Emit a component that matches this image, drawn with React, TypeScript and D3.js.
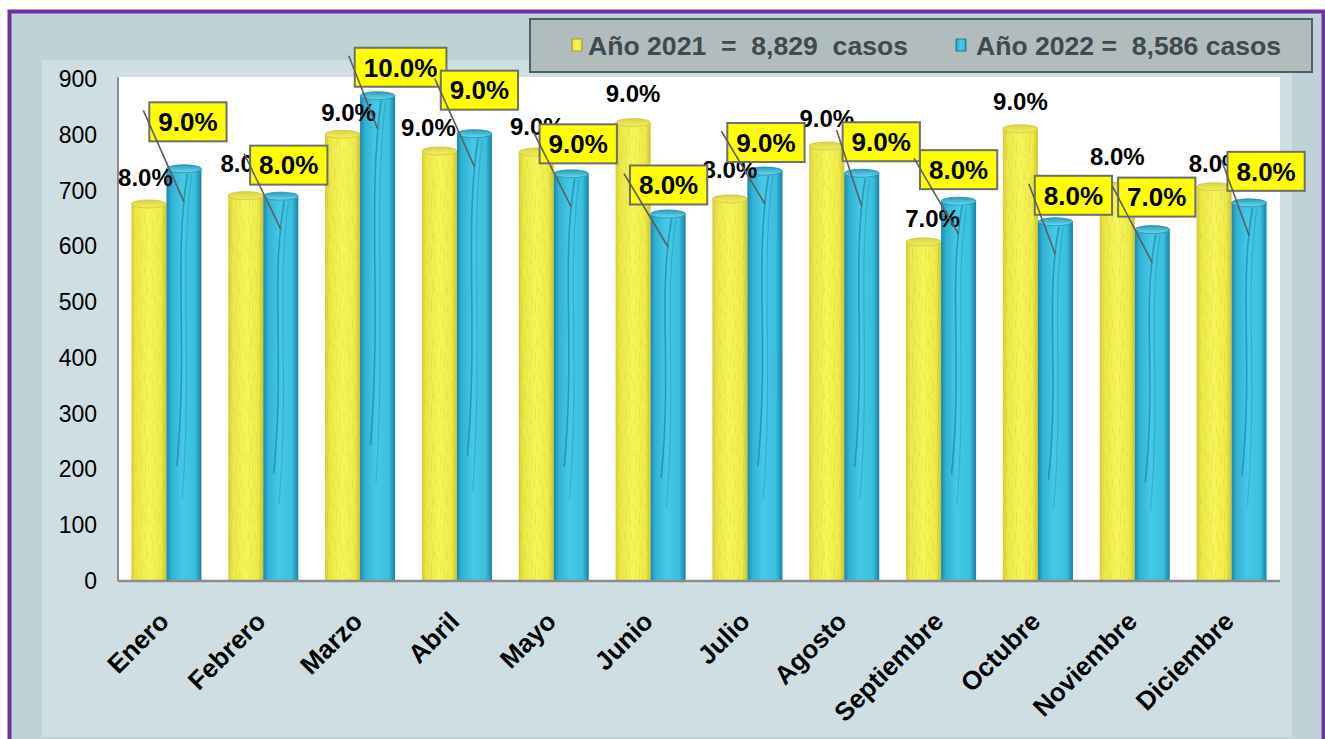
import React from 'react';
import * as d3 from 'd3';

const months = ['Enero','Febrero','Marzo','Abril','Mayo','Junio','Julio','Agosto','Septiembre','Octubre','Noviembre','Diciembre'];
const values2021 = [676, 691, 801, 771, 769, 822, 685, 780, 608, 811, 708, 707];
const values2022 = [739, 690, 870, 802, 730, 658, 735, 731, 681, 644, 630, 678];
const pct2021 = ['8.0%','8.0%','9.0%','9.0%','9.0%','9.0%','8.0%','9.0%','7.0%','9.0%','8.0%','8.0%'];
const pct2022 = ['9.0%','8.0%','10.0%','9.0%','9.0%','8.0%','9.0%','9.0%','8.0%','8.0%','7.0%','8.0%'];
const yTicks = [0,100,200,300,400,500,600,700,800,900];
const legendLabels = ['Año 2021  =  8,829  casos', 'Año 2022 =  8,586 casos'];

// label layout nudges (dx, dy) relative to the bar top
const nudge2021: [number, number][] = [[-3.5,-22],[2,-28],[6,-18],[-11,-19],[1,-22],[0,-25],[0,-25],[0,-23],[9,-19],[0,-23],[0,-26],[2,-19]];
const nudge2022: [number, number][] = [[4,-43],[8,-27],[23,-24.5],[5,-39.5],[7,-26],[0.5,-25],[1,-24.5],[19.5,-27.5],[0,-27.5],[18,-22.5],[4.5,-28.5],[17,-27.5]];

const FONT = '"Liberation Sans", Arial, Helvetica, sans-serif';

function measure(text: string, font: string): number {
  try {
    const c = document.createElement('canvas').getContext('2d');
    if (c) { c.font = font; return c.measureText(text).width; }
  } catch (e) {}
  return text.length * 14;
}

export default function App() {
  const W = 1325, H = 739;
  const plot = { x0: 118, x1: 1280, y0: 77, y1: 581 };
  const x = d3.scaleBand<string>().domain(months).range([plot.x0, plot.x1]).paddingInner(0.277).paddingOuter(0.1385);
  const xs = d3.scaleBand<string>().domain(['2021','2022']).range([0, x.bandwidth()]).padding(0);
  const y = d3.scaleLinear().domain([0, 900]).range([581, 79]);
  const ry = 4;
  const bw = xs.bandwidth();

  const yellowBars = months.map((m, i) => {
    const bx = (x(m) as number) + (xs('2021') as number);
    const cy = y(values2021[i]);
    return { bx, cy, cx: bx + bw / 2 };
  });
  const cyanBars = months.map((m, i) => {
    const bx = (x(m) as number) + (xs('2022') as number);
    const cy = y(values2022[i]);
    return { bx, cy, cx: bx + bw / 2 };
  });

  const boxFont = `bold 26px ${FONT}`;

  return (
    <svg width={W} height={H} style={{ position: 'absolute', left: 0, top: 0 }} fontFamily={FONT}>
      <defs>
        <linearGradient id="gy" x1="0" x2="1" y1="0" y2="0">
          <stop offset="0%" stopColor="#D3CB36" />
          <stop offset="12%" stopColor="#EBE645" />
          <stop offset="50%" stopColor="#F7F55C" />
          <stop offset="85%" stopColor="#EEEA48" />
          <stop offset="100%" stopColor="#CAC330" />
        </linearGradient>
        <linearGradient id="gc" x1="0" x2="1" y1="0" y2="0">
          <stop offset="0%" stopColor="#1B87A8" />
          <stop offset="14%" stopColor="#30B2D3" />
          <stop offset="45%" stopColor="#45C9E7" />
          <stop offset="82%" stopColor="#3ABFDD" />
          <stop offset="100%" stopColor="#1A81A2" />
        </linearGradient>
        <linearGradient id="gyl" x1="0" x2="0" y1="0" y2="1">
          <stop offset="0%" stopColor="#D8D04A" />
          <stop offset="100%" stopColor="#F4F060" />
        </linearGradient>
        <linearGradient id="gcl" x1="0" x2="0" y1="0" y2="1">
          <stop offset="0%" stopColor="#2A9AB8" />
          <stop offset="100%" stopColor="#6ED9F0" />
        </linearGradient>
        <pattern id="wood" width="13" height="53" patternUnits="userSpaceOnUse">
          <path d="M1.5 2 v9 M4 14 v17 M7.5 3 v6 M10 9 v13 M12 30 v12 M2.5 35 v14 M6 40 v9 M9 26 v6 M5.5 22 v5 M11 47 v5 M3 0 v1"
            stroke="#B0A81E" strokeOpacity="0.22" strokeWidth="0.8" fill="none" />
        </pattern>
      </defs>

      {/* frame */}
      <rect x={0} y={0} width={W} height={H} fill="#ffffff" />
      <rect x={9.5} y={11.5} width={1314} height={800} fill="#BED3D8" stroke="#7030A0" strokeWidth={4} />
      <rect x={42} y={60} width={1250} height={677} fill="#CFDEE3" />
      <rect x={plot.x0} y={plot.y0} width={plot.x1 - plot.x0} height={plot.y1 - plot.y0} fill="#ffffff" />

      {/* y axis */}
      <line x1={plot.x0} x2={plot.x0} y1={plot.y0} y2={plot.y1} stroke="#8C8C8C" strokeWidth={2} />
      {yTicks.map(t => (
        <text key={t} x={97} y={y(t) + 8} textAnchor="end" fontSize={23} fill="#000">{t}</text>
      ))}

      {/* bars */}
      {yellowBars.map((b, i) => {
        const h = plot.y1 - b.cy;
        return (
          <g key={'y' + i}>
            <rect x={b.bx} y={b.cy} width={bw} height={h} fill="url(#gy)" />
            <rect x={b.bx + 2} y={b.cy} width={bw - 4} height={h} fill="url(#wood)" />
            <ellipse cx={b.cx} cy={b.cy} rx={bw / 2} ry={ry} fill="url(#gyl)" stroke="#CFC63A" strokeWidth={0.8} />
          </g>
        );
      })}
      {cyanBars.map((b, i) => {
        const h = plot.y1 - b.cy;
        const top = b.cy;
        return (
          <g key={'c' + i}>
            <rect x={b.bx} y={top} width={bw} height={h} fill="url(#gc)" />
            <path d={`M${b.bx + bw * 0.6},${top + 5} C${b.bx + bw * 0.2},${top + h * 0.22} ${b.bx + bw * 0.62},${top + h * 0.42} ${b.bx + bw * 0.3},${top + h * 0.72}`}
              stroke="#15728F" strokeOpacity={0.55} strokeWidth={1.6} fill="none" />
            <path d={`M${b.bx + bw * 0.72},${top + 6} C${b.bx + bw * 0.36},${top + h * 0.25} ${b.bx + bw * 0.76},${top + h * 0.45} ${b.bx + bw * 0.45},${top + h * 0.8}`}
              stroke="#1D8CAC" strokeOpacity={0.4} strokeWidth={1.2} fill="none" />
            <ellipse cx={b.cx} cy={top} rx={bw / 2} ry={ry} fill="url(#gcl)" stroke="#1F8FB0" strokeWidth={0.8} />
          </g>
        );
      })}

      {/* baseline */}
      <line x1={plot.x0} x2={plot.x1} y1={plot.y1} y2={plot.y1} stroke="#8C8C8C" strokeWidth={2.5} />

      {/* x labels */}
      {months.map(m => {
        const cx = (x(m) as number) + x.bandwidth() / 2 + 4;
        return (
          <text key={m} transform={`translate(${cx},623) rotate(-45)`} textAnchor="end" fontSize={26} fontWeight="bold" fill="#000">{m}</text>
        );
      })}

      {/* 2021 labels */}
      {yellowBars.map((b, i) => (
        <text key={'l1' + i} x={b.cx + nudge2021[i][0]} y={b.cy - ry + nudge2021[i][1] + 8.5} textAnchor="middle" fontSize={24} fontWeight="bold" fill="#000">{pct2021[i]}</text>
      ))}

      {/* 2022 boxed labels */}
      {cyanBars.map((b, i) => {
        const tw = measure(pct2022[i], boxFont);
        const bwid = tw + 18, bh = 39;
        const cxB = b.cx + nudge2022[i][0];
        const cyB = b.cy - ry + nudge2022[i][1];
        const left = cxB - bwid / 2, top = cyB - bh / 2;
        return (
          <g key={'l2' + i}>
            <rect x={left} y={top} width={bwid} height={bh} fill="#FFFF00" stroke="#6E6E6E" strokeWidth={2} />
            <text x={cxB} y={cyB + 9.3} textAnchor="middle" fontSize={26} fontWeight="bold" fill="#000">{pct2022[i]}</text>
            <line x1={left - 6} y1={top + 8} x2={b.cx} y2={b.cy - ry + 37} stroke="#5E5E5E" strokeWidth={1.6} />
          </g>
        );
      })}

      {/* legend */}
      <rect x={530} y={19} width={782} height={53} fill="#B1BCBC" stroke="#4C6066" strokeWidth={2} />
      <rect x={572} y={39} width={10} height={12} fill="url(#gy)" stroke="#9C9620" strokeWidth={0.8} />
      <text x={588} y={55} fontSize={26} fontWeight="bold" fill="#3D4A50" style={{ whiteSpace: 'pre' }} textLength={320} lengthAdjust="spacingAndGlyphs">{legendLabels[0]}</text>
      <rect x={956} y={39} width={10} height={12} fill="url(#gc)" stroke="#166E8A" strokeWidth={0.8} />
      <text x={976} y={55} fontSize={26} fontWeight="bold" fill="#3D4A50" style={{ whiteSpace: 'pre' }} textLength={305} lengthAdjust="spacingAndGlyphs">{legendLabels[1]}</text>
    </svg>
  );
}
